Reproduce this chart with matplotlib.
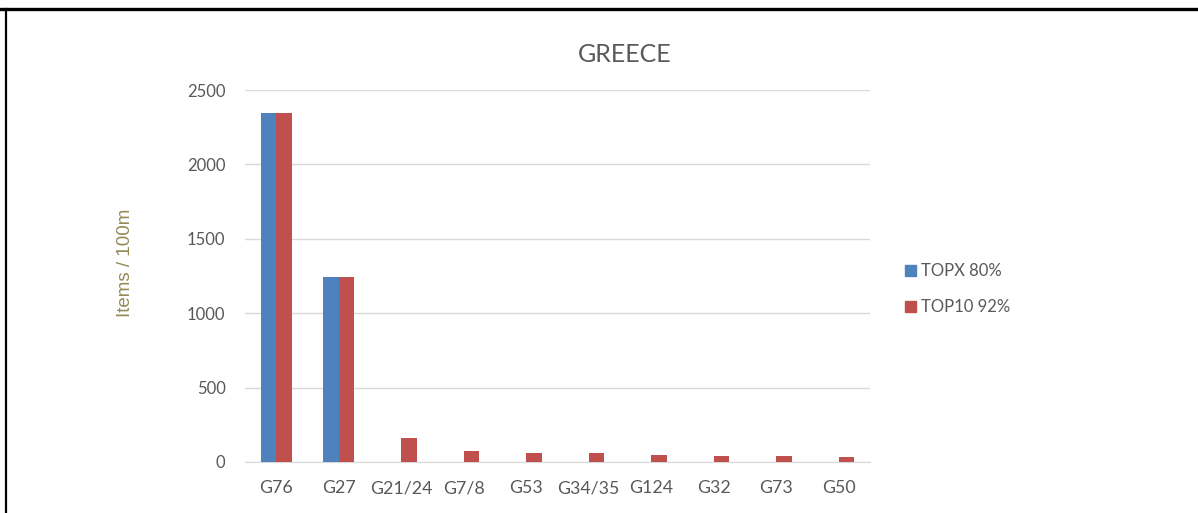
import numpy as np
import matplotlib
matplotlib.use('Agg')
import matplotlib.pyplot as plt
from matplotlib.lines import Line2D
from matplotlib.patches import Patch

categories = ['G76', 'G27', 'G21/24', 'G7/8', 'G53', 'G34/35', 'G124', 'G32', 'G73', 'G50']
topx = [2345, 1243, 0, 0, 0, 0, 0, 0, 0, 0]
top10 = [2345, 1243, 159, 76, 63, 63, 49, 40, 40, 34]
yticks = [0, 500, 1000, 1500, 2000, 2500]

plt.rcParams['font.family'] = ['Lato', 'DejaVu Sans']

W, H = 1198, 513
fig = plt.figure(figsize=(W / 100, H / 100), dpi=100)
ax = fig.add_axes([245 / W, (H - 462) / H, (870 - 245) / W, (462 - 90) / H])

x = np.arange(len(categories))
bw = 0.25
ax.bar(x - bw / 2, topx, bw, color='#4F81BD', label='TOPX 80%', zorder=3)
ax.bar(x + bw / 2, top10, bw, color='#C0504D', label='TOP10 92%', zorder=3)

ax.set_xlim(-0.5, len(categories) - 0.5)
ax.set_ylim(0, 2500)
ax.set_yticks(yticks)
ax.set_xticks(x)
ax.set_xticklabels(categories)
ax.grid(axis='y', color='#D9D9D9', linewidth=1, zorder=0)
for s in ['top', 'right', 'left']:
    ax.spines[s].set_visible(False)
ax.spines['bottom'].set_color('#D9D9D9')
ax.tick_params(axis='both', length=0, labelcolor='#595959')
ax.tick_params(axis='x', pad=13, labelsize=12.8)
ax.tick_params(axis='y', pad=14, labelsize=12)

fig.text(125 / W, 1 - 263 / H, 'Items / 100m', rotation=90, ha='center', va='center',
         color='#948A54', fontsize=13.5, family=['Liberation Sans', 'DejaVu Sans'])
fig.text(625 / W, 1 - 54 / H, 'GREECE', ha='center', va='center', fontsize=18, color='#595959')

handles = [Patch(color='#4F81BD'), Patch(color='#C0504D')]
fig.legend(handles, ['TOPX 80%', 'TOP10 92%'], loc='center left',
           bbox_to_anchor=(890 / W, 1 - 289 / H), frameon=False, fontsize=12,
           labelcolor='#595959', handlelength=0.65, handleheight=0.65,
           handletextpad=0.3, labelspacing=1.2)

# outer frame
fig.add_artist(Line2D([0, 1], [1 - 9 / H, 1 - 9 / H], color='black', linewidth=2.4))
fig.add_artist(Line2D([6 / W, 6 / W], [0, 1 - 9 / H], color='black', linewidth=1.6))

fig.savefig('out.png', dpi=100)
